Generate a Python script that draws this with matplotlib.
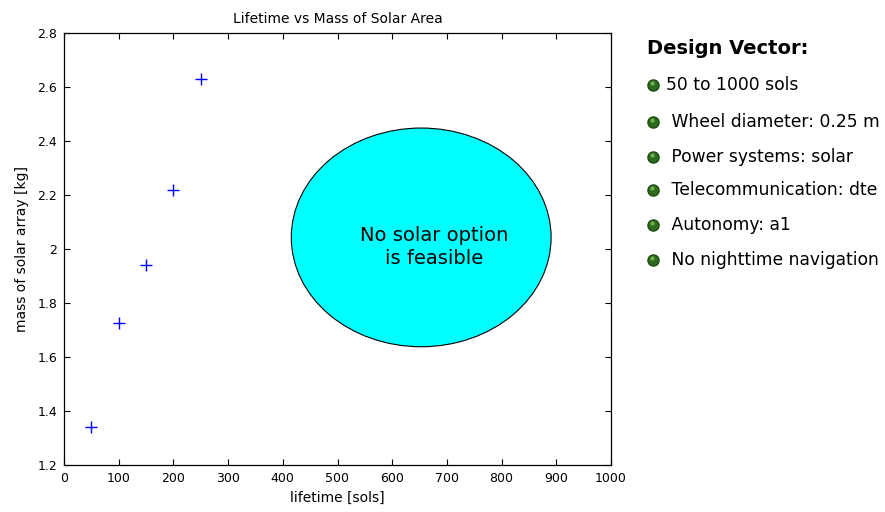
import matplotlib
matplotlib.use("Agg")
import matplotlib.pyplot as plt
from matplotlib.patches import Ellipse
from matplotlib.ticker import FuncFormatter

lifetime = [50, 100, 150, 200, 250]
mass = [1.34, 1.725, 1.94, 2.22, 2.63]
xticks = [0, 100, 200, 300, 400, 500, 600, 700, 800, 900, 1000]
yticks = [1.2, 1.4, 1.6, 1.8, 2.0, 2.2, 2.4, 2.6, 2.8]
legend_title = "Design Vector:"
legend_items = ["50 to 1000 sols", " Wheel diameter: 0.25 m", " Power systems: solar",
                " Telecommunication: dte", " Autonomy: a1", " No nighttime navigation"]

plt.rcParams['font.family'] = ['DejaVu Sans']
fig = plt.figure(figsize=(8.85, 5.12), dpi=100)
ax = fig.add_axes([64/885, 1-465/512, (611-64)/885, (465-33)/512])
ax.plot(lifetime, mass, '+', color='#0000ff', markersize=9, markeredgewidth=1.0)
ax.set_xlim(0, 1000)
ax.set_ylim(1.2, 2.8)
ax.set_xticks(xticks)
ax.set_yticks(yticks)
ax.yaxis.set_major_formatter(FuncFormatter(lambda v, p: f"{v:g}"))
ax.tick_params(direction='in', top=True, right=True, labelsize=9, length=4, pad=5)
for s in ax.spines.values():
    s.set_linewidth(0.9)
ax.set_xlabel("lifetime [sols]", fontsize=10, labelpad=4)
ax.set_ylabel("mass of solar array [kg]", fontsize=10, labelpad=6)
ax.set_title("Lifetime vs Mass of Solar Area", fontsize=10, pad=7)

ell = Ellipse((653, 2.043), 475, 0.81, facecolor='#00ffff', edgecolor='black', linewidth=0.8, zorder=3)
ax.add_patch(ell)
ax.text(676, 2.007, "No solar option\nis feasible", ha='center', va='center', fontsize=14,
        zorder=4, linespacing=1.3)

fig.text(647/885, 1-48/512, legend_title, fontsize=14, fontweight='bold', va='center', ha='left')
ys = [85, 122, 157, 190, 225, 260]
for i, (txt, y) in enumerate(zip(legend_items, ys)):
    fy = 1 - y/512
    fig.lines.append(plt.Line2D([653/885], [fy], transform=fig.transFigure, marker='o',
                                markersize=8, color='#2e6b1e', markeredgecolor='#1d4a12'))
    fig.lines.append(plt.Line2D([651.5/885], [fy+2/512], transform=fig.transFigure, marker='o',
                                markersize=3, color='#6fb04a', markeredgewidth=0))
    fig.text(666/885, fy, txt, fontsize=12.3, va='center', ha='left')

fig.savefig("out.png", dpi=100)
